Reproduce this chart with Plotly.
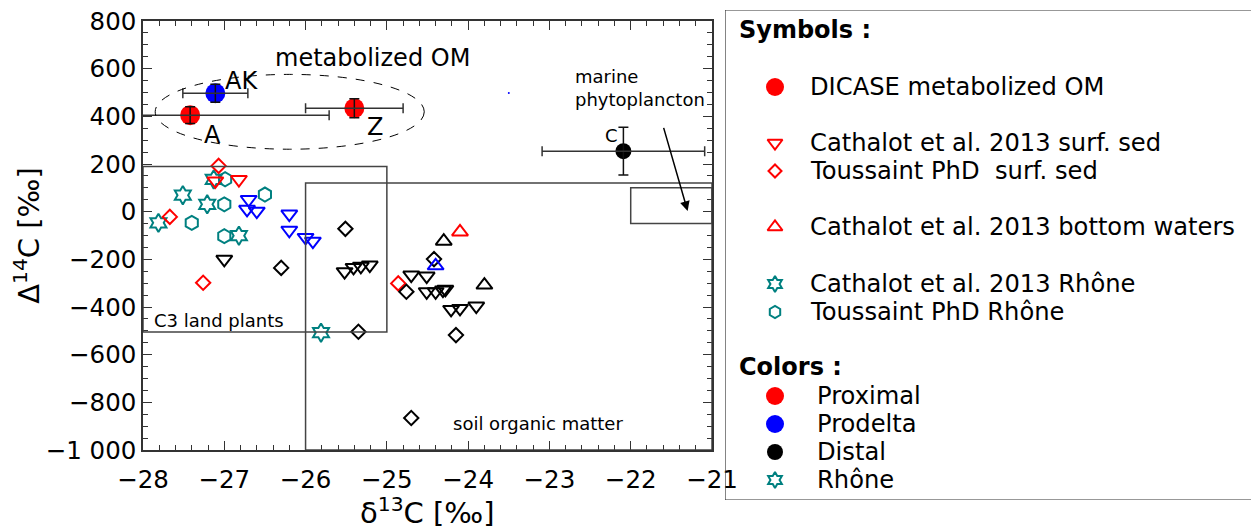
import plotly.graph_objects as go

# ---------------- data ----------------
# DICASE metabolized OM (filled circles with error bars)
dic_x = [-27.42, -27.11, -25.40, -22.09]
dic_y = [405, 497, 434, 254]
dic_xerr = [1.71, 0.40, 0.60, 1.00]
dic_yerr = [35, 38, 40, 100]
dic_colors = ["red", "blue", "red", "black"]
dic_sizes = [20, 20, 20, 16]
dic_labels = ["A", "AK", "Z", "C"]
dic_label_x = [-27.14, -26.79, -25.15, -22.24]
dic_label_y = [321, 548, 356, 321]

# Cathalot et al. 2013 surf. sed (down triangles)
cs_red_x = [-27.11, -26.82]
cs_red_y = [129, 135]
cs_blue_x = [-26.70, -26.72, -26.60, -26.20, -26.20, -26.00, -25.91]
cs_blue_y = [51, 10, 2, -10, -78, -108, -124]
cs_black_x = [-27.00, -25.52, -25.41, -25.32, -25.21, -24.70, -24.51, -24.51,
              -24.40, -24.31, -24.28, -24.21, -24.10, -23.90]
cs_black_y = [-200, -252, -234, -229, -224, -266, -270, -336,
              -336, -329, -326, -410, -406, -396]

# Toussaint PhD surf. sed (diamonds)
ts_red_x = [-27.07, -27.67, -27.26, -24.86]
ts_red_y = [192, -22, -298, -301]
ts_black_x = [-26.30, -25.51, -25.35, -24.42, -24.76, -24.15, -24.70]
ts_black_y = [-236, -72, -504, -199, -336, -518, -866]

# Cathalot et al. 2013 bottom waters (up triangles)
cb_red_x = [-24.10]
cb_red_y = [-85]
cb_blue_x = [-24.40]
cb_blue_y = [-227]
cb_black_x = [-24.30, -23.80]
cb_black_y = [-124, -308]

# Rhône
cr_x = [-27.13, -27.51, -27.21, -27.81, -26.82, -25.81]
cr_y = [135, 69, 31, -47, -101, -508]
tr_x = [-26.99, -26.50, -27.00, -27.40, -27.00]
tr_y = [136, 72, 31, -47, -103]

# stray tiny point
dot_x = [-23.50]
dot_y = [498]

# end-member boxes
c3_box = dict(x0=-28, x1=-25, y0=-505, y1=190)
soil_box = dict(x0=-26, x1=-21, y0=-1000, y1=120)
phyto_box = dict(x0=-22, x1=-21, y0=-50, y1=100)
ellipse_box = dict(x0=-27.85, x1=-24.54, y0=262, y1=576)

x_tick_vals = [-28, -27, -26, -25, -24, -23, -22, -21]
x_tick_text = ["−28", "−27", "−26", "−25", "−24", "−23", "−22", "−21"]
y_tick_vals = [-1000, -800, -600, -400, -200, 0, 200, 400, 600, 800]
y_tick_text = ["−1 000", "−800", "−600", "−400", "−200", "0", "200", "400", "600", "800"]

FONT = "DejaVu Sans"
TEAL = "#008080"

fig = go.Figure()

def open_trace(x, y, symbol, color, size):
    fig.add_trace(go.Scatter(
        x=x, y=y, mode="markers", showlegend=False, cliponaxis=True, opacity=1,
        marker=dict(symbol=symbol, size=size, color=color, opacity=1,
                    line=dict(color=color, width=2))))

# open markers
open_trace(cr_x, cr_y, "hexagram-open", TEAL, 14)
open_trace(tr_x, tr_y, "hexagon-open", TEAL, 14)
open_trace(cs_red_x, cs_red_y, "triangle-down-open", "red", 14)
open_trace(cs_blue_x, cs_blue_y, "triangle-down-open", "blue", 14)
open_trace(cs_black_x, cs_black_y, "triangle-down-open", "black", 14)
open_trace(ts_red_x, ts_red_y, "diamond-open", "red", 11)
open_trace(ts_black_x, ts_black_y, "diamond-open", "black", 11)
open_trace(cb_red_x, cb_red_y, "triangle-up-open", "red", 14)
open_trace(cb_blue_x, cb_blue_y, "triangle-up-open", "blue", 14)
open_trace(cb_black_x, cb_black_y, "triangle-up-open", "black", 14)

fig.add_trace(go.Scatter(x=dot_x, y=dot_y, mode="markers", showlegend=False,
                         marker=dict(size=2, color="blue")))

# DICASE markers (one trace per point, fully opaque)
for px, py, pc, ps in zip(dic_x, dic_y, dic_colors, dic_sizes):
    fig.add_trace(go.Scatter(
        x=[px], y=[py], mode="markers", showlegend=False, opacity=1,
        marker=dict(size=ps, color=pc, opacity=1, line=dict(width=0))))
# error bars drawn above markers
fig.add_trace(go.Scatter(
    x=dic_x, y=dic_y, mode="markers", showlegend=False,
    marker=dict(size=1, color="rgba(0,0,0,0)"),
    error_x=dict(type="data", array=dic_xerr, color="#333333", thickness=1.5, width=5),
    error_y=dict(type="data", array=dic_yerr, color="#111111", thickness=1.5, width=5)))

shapes = []
for b in (c3_box, soil_box, phyto_box):
    shapes.append(dict(type="rect", xref="x", yref="y", line=dict(color="#444444", width=1.5),
                       **b))
shapes.append(dict(type="circle", xref="x", yref="y", line=dict(color="black", width=1, dash="dash"),
                   **ellipse_box))

annotations = []
for lx, ly, lt, fs in zip(dic_label_x, dic_label_y, dic_labels, [24, 24, 24, 18]):
    annotations.append(dict(x=lx, y=ly, xref="x", yref="y", text=lt, showarrow=False,
                            font=dict(size=fs, color="black", family=FONT)))
annotations += [
    dict(x=-25.18, y=644, xref="x", yref="y", text="metabolized OM", showarrow=False,
         font=dict(size=24, color="black", family=FONT)),
    dict(x=-22.71, y=518, xref="x", yref="y", text="marine<br>phytoplancton", showarrow=False,
         xanchor="left", align="left", font=dict(size=18, color="black", family=FONT)),
    dict(x=-27.89, y=-455, xref="x", yref="y", text="C3 land plants", showarrow=False,
         xanchor="left", font=dict(size=18, color="black", family=FONT)),
    dict(x=-23.14, y=-887, xref="x", yref="y", text="soil organic matter", showarrow=False,
         font=dict(size=18, color="black", family=FONT)),
    dict(x=-21.30, y=3, ax=-21.60, ay=358, xref="x", yref="y", axref="x", ayref="y",
         text="", showarrow=True, arrowhead=2, arrowsize=1.3, arrowwidth=1.5, arrowcolor="black"),
]

# ---------------- page geometry (page body adds an 8 px offset) ----------------
OFF = 8
W, H = 1259 - OFF, 529 - OFF
L, R, T, B = 143 - OFF, 2, 10 - OFF, 29
pw = W - L - R
ph = H - T - B


def px_x(px):  # reference screen px -> paper fraction
    return (px - OFF - L) / pw


def px_y(py):
    return (H - B - (py - OFF)) / ph


# ---------------- custom legend (reference-pixel coordinates on hidden axes) ----------------
leg_items = [
    ("circle", "red", 18, 87, "DICASE metabolized OM", 808),
    ("triangle-down-open", "red", 13, 143, "Cathalot et al. 2013 surf. sed", 808),
    ("diamond-open", "red", 10, 171, "Toussaint PhD  surf. sed", 808),
    ("triangle-up-open", "red", 13, 227, "Cathalot et al. 2013 bottom waters", 808),
    ("hexagram-open", TEAL, 12, 284, "Cathalot et al. 2013 Rhône", 808),
    ("hexagon-open", TEAL, 12, 312, "Toussaint PhD Rhône", 808),
    ("circle", "red", 18, 396, "Proximal", 815),
    ("circle", "blue", 18, 424, "Prodelta", 815),
    ("circle", "black", 16, 452, "Distal", 815),
    ("hexagram-open", TEAL, 12, 480, "Rhône", 815),
]
for sym, col, sz, py, txt, tx in leg_items:
    fig.add_trace(go.Scatter(x=[775], y=[py], xaxis="x2", yaxis="y2", mode="markers",
                             showlegend=False,
                             marker=dict(symbol=sym, size=sz, color=col,
                                         line=dict(color=col, width=2 if "open" in sym else 0))))
    annotations.append(dict(x=tx, y=py, xref="x2", yref="y2", text=txt, showarrow=False,
                            xanchor="left", font=dict(size=24.2, color="black", family=FONT)))
annotations.append(dict(x=737, y=30, xref="x2", yref="y2", text="<b>Symbols :</b>", showarrow=False,
                        xanchor="left", font=dict(size=24, color="black", family=FONT)))
annotations.append(dict(x=737, y=367, xref="x2", yref="y2", text="<b>Colors :</b>", showarrow=False,
                        xanchor="left", font=dict(size=24, color="black", family=FONT)))
shapes.append(dict(type="rect", xref="x2", yref="y2", x0=725, x1=1253, y0=10, y1=500,
                   line=dict(color="#333333", width=1.2), fillcolor="rgba(0,0,0,0)", layer="above"))

# x-axis title placed explicitly
annotations.append(dict(x=px_x(427), y=px_y(511), xref="paper", yref="paper",
                        text="δ<sup>13</sup>C [‰]", showarrow=False,
                        xanchor="center", yanchor="middle",
                        font=dict(size=29, color="black", family=FONT)))

axis_common = dict(showgrid=False, zeroline=False, showline=True, linecolor="#333333",
                   linewidth=1.5, mirror="allticks", ticks="inside", ticklen=9, tickwidth=1.3,
                   tickcolor="#333333", automargin=False, ticklabeloverflow="allow",
                   tickfont=dict(size=24.5, color="black", family=FONT))

fig.update_layout(
    width=W, height=H, margin=dict(l=L, r=R, t=T, b=B, autoexpand=False),
    paper_bgcolor="white", plot_bgcolor="white",
    font=dict(family=FONT, color="black"),
    xaxis=dict(domain=[px_x(143), px_x(712)], range=[-28, -21], anchor="y",
               tickvals=x_tick_vals, ticktext=x_tick_text, ticklabelstandoff=7,
               minor=dict(ticks="inside", dtick=0.2, ticklen=5, tickwidth=1, tickcolor="#333333"),
               **axis_common),
    yaxis=dict(domain=[px_y(450), px_y(21)], range=[-1000, 800], anchor="x",
               tickvals=y_tick_vals, ticktext=y_tick_text,
               minor=dict(ticks="inside", dtick=50, ticklen=5, tickwidth=1, tickcolor="#333333"),
               title=dict(text="Δ<sup>14</sup>C [‰]", font=dict(size=29, family=FONT), standoff=6),
               **axis_common),
    xaxis2=dict(domain=[px_x(725), px_x(1253)], range=[725, 1253], anchor="y2",
                visible=False, fixedrange=True),
    yaxis2=dict(domain=[px_y(500), px_y(10)], range=[500, 10], anchor="x2",
                visible=False, fixedrange=True),
    shapes=shapes, annotations=annotations,
)

fig.write_html("out.html")
